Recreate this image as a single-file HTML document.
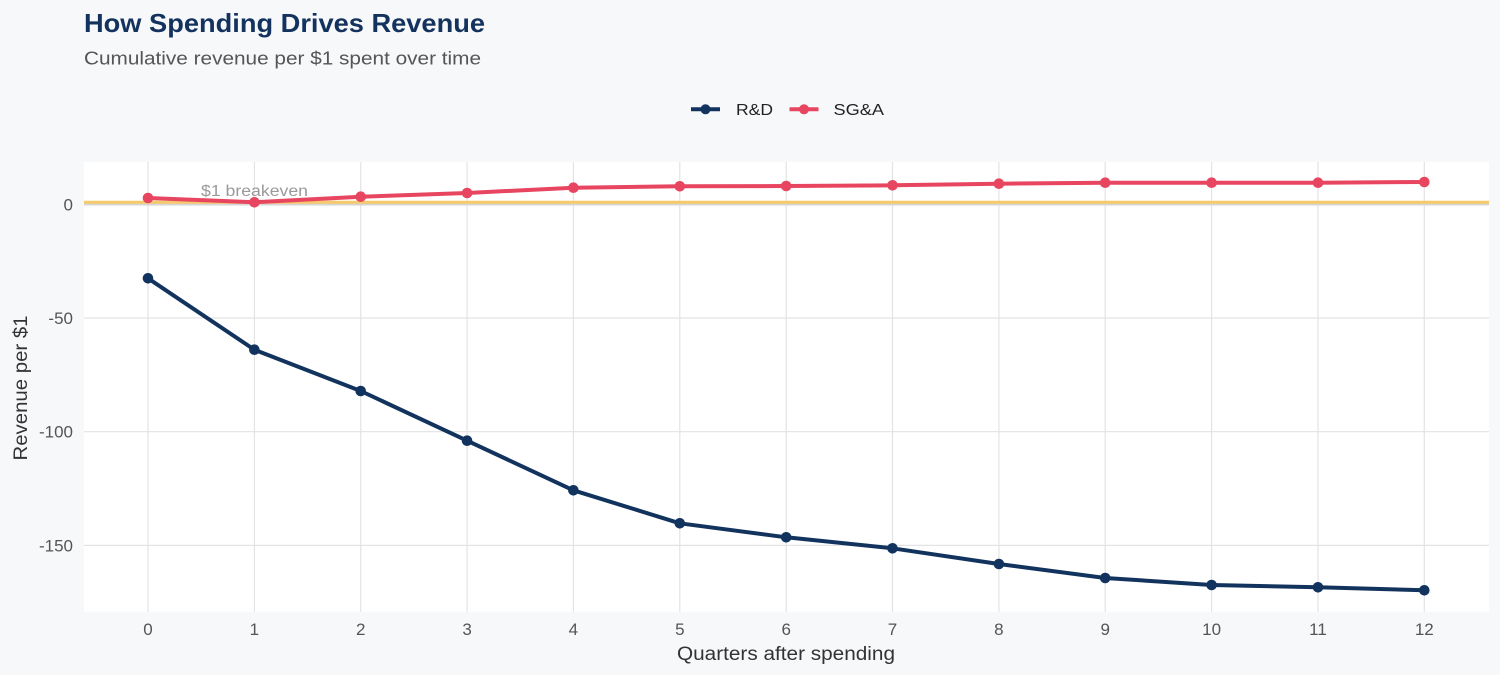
<!DOCTYPE html>
<html>
<head>
<meta charset="utf-8">
<style>
  html, body { margin: 0; padding: 0; background: #f7f8fa; }
  svg { display: block; }
  text { font-family: "Liberation Sans", Arial, Helvetica, sans-serif; }
</style>
</head>
<body>
<svg width="1500" height="675" viewBox="0 0 1500 675" xmlns="http://www.w3.org/2000/svg">
  <rect x="0" y="0" width="1500" height="675" fill="#f7f8fa"/>

  <!-- Title & subtitle -->
  <text x="84" y="32" font-size="26" font-weight="bold" fill="#13325d" textLength="401" lengthAdjust="spacingAndGlyphs">How Spending Drives Revenue</text>
  <text x="84" y="64.5" font-size="18.5" fill="#555555" textLength="397" lengthAdjust="spacingAndGlyphs">Cumulative revenue per $1 spent over time</text>

  <!-- Legend -->
  <line x1="691" y1="109.3" x2="720" y2="109.3" stroke="#12335e" stroke-width="4"/>
  <circle cx="705.5" cy="109.3" r="5" fill="#12335e"/>
  <text x="736" y="115" font-size="16" fill="#222222" textLength="37" lengthAdjust="spacingAndGlyphs">R&amp;D</text>
  <line x1="789.5" y1="109.3" x2="818.5" y2="109.3" stroke="#e84560" stroke-width="4"/>
  <circle cx="804" cy="109.3" r="5" fill="#e84560"/>
  <text x="833.5" y="115" font-size="16" fill="#222222" textLength="50.5" lengthAdjust="spacingAndGlyphs">SG&amp;A</text>

  <!-- Panel -->
  <rect x="84" y="162" width="1405" height="449.7" fill="#ffffff"/>

  <!-- Vertical gridlines -->
  <g stroke="#e3e3e3" stroke-width="1.2">
    <line x1="148" y1="162" x2="148" y2="611.7"/>
    <line x1="254.4" y1="162" x2="254.4" y2="611.7"/>
    <line x1="360.7" y1="162" x2="360.7" y2="611.7"/>
    <line x1="467.1" y1="162" x2="467.1" y2="611.7"/>
    <line x1="573.4" y1="162" x2="573.4" y2="611.7"/>
    <line x1="679.8" y1="162" x2="679.8" y2="611.7"/>
    <line x1="786.2" y1="162" x2="786.2" y2="611.7"/>
    <line x1="892.5" y1="162" x2="892.5" y2="611.7"/>
    <line x1="998.9" y1="162" x2="998.9" y2="611.7"/>
    <line x1="1105.2" y1="162" x2="1105.2" y2="611.7"/>
    <line x1="1211.6" y1="162" x2="1211.6" y2="611.7"/>
    <line x1="1318" y1="162" x2="1318" y2="611.7"/>
    <line x1="1424.3" y1="162" x2="1424.3" y2="611.7"/>
  </g>
  <!-- Horizontal gridlines -->
  <g stroke="#e3e3e3" stroke-width="1.2">
    <line x1="84" y1="318" x2="1489" y2="318"/>
    <line x1="84" y1="431.7" x2="1489" y2="431.7"/>
    <line x1="84" y1="545.4" x2="1489" y2="545.4"/>
  </g>
  <line x1="84" y1="204.5" x2="1489" y2="204.5" stroke="#d6d6d6" stroke-width="2"/>
  <!-- Breakeven line -->
  <line x1="84" y1="202.2" x2="1489" y2="202.2" stroke="#f6c96b" stroke-width="3"/>
  <text x="201" y="196" font-size="15.5" fill="#9a9a9a" textLength="107" lengthAdjust="spacingAndGlyphs">$1 breakeven</text>

  <!-- SG&A series -->
  <polyline fill="none" stroke="#e84560" stroke-width="4" stroke-linejoin="round"
    points="148,198 254.4,202.3 360.7,196.7 467.1,193 573.4,187.7 679.8,186.3 786.2,186 892.5,185.3 998.9,183.7 1105.2,182.7 1211.6,182.7 1318,182.7 1424.3,182"/>
  <g fill="#e84560">
    <circle cx="148" cy="198" r="5.3"/>
    <circle cx="254.4" cy="202.3" r="5.3"/>
    <circle cx="360.7" cy="196.7" r="5.3"/>
    <circle cx="467.1" cy="193" r="5.3"/>
    <circle cx="573.4" cy="187.7" r="5.3"/>
    <circle cx="679.8" cy="186.3" r="5.3"/>
    <circle cx="786.2" cy="186" r="5.3"/>
    <circle cx="892.5" cy="185.3" r="5.3"/>
    <circle cx="998.9" cy="183.7" r="5.3"/>
    <circle cx="1105.2" cy="182.7" r="5.3"/>
    <circle cx="1211.6" cy="182.7" r="5.3"/>
    <circle cx="1318" cy="182.7" r="5.3"/>
    <circle cx="1424.3" cy="182" r="5.3"/>
  </g>

  <!-- R&D series -->
  <polyline fill="none" stroke="#12335e" stroke-width="4" stroke-linejoin="round"
    points="148,278.3 254.4,349.7 360.7,391 467.1,440.7 573.4,490.3 679.8,523.3 786.2,537.3 892.5,548.3 998.9,564 1105.2,578 1211.6,585 1318,587.3 1424.3,590.3"/>
  <g fill="#12335e">
    <circle cx="148" cy="278.3" r="5.3"/>
    <circle cx="254.4" cy="349.7" r="5.3"/>
    <circle cx="360.7" cy="391" r="5.3"/>
    <circle cx="467.1" cy="440.7" r="5.3"/>
    <circle cx="573.4" cy="490.3" r="5.3"/>
    <circle cx="679.8" cy="523.3" r="5.3"/>
    <circle cx="786.2" cy="537.3" r="5.3"/>
    <circle cx="892.5" cy="548.3" r="5.3"/>
    <circle cx="998.9" cy="564" r="5.3"/>
    <circle cx="1105.2" cy="578" r="5.3"/>
    <circle cx="1211.6" cy="585" r="5.3"/>
    <circle cx="1318" cy="587.3" r="5.3"/>
    <circle cx="1424.3" cy="590.3" r="5.3"/>
  </g>

  <!-- Y tick labels -->
  <g font-size="17" fill="#555555" text-anchor="end">
    <text x="73" y="210.5">0</text>
    <text x="73" y="324">-50</text>
    <text x="73" y="437.7">-100</text>
    <text x="73" y="551.4">-150</text>
  </g>

  <!-- X tick labels -->
  <g font-size="17" fill="#555555" text-anchor="middle">
    <text x="148" y="635">0</text>
    <text x="254.4" y="635">1</text>
    <text x="360.7" y="635">2</text>
    <text x="467.1" y="635">3</text>
    <text x="573.4" y="635">4</text>
    <text x="679.8" y="635">5</text>
    <text x="786.2" y="635">6</text>
    <text x="892.5" y="635">7</text>
    <text x="998.9" y="635">8</text>
    <text x="1105.2" y="635">9</text>
    <text x="1211.6" y="635">10</text>
    <text x="1318" y="635">11</text>
    <text x="1424.3" y="635">12</text>
  </g>

  <!-- Axis titles -->
  <text x="677" y="660" font-size="19" fill="#333333" textLength="218" lengthAdjust="spacingAndGlyphs">Quarters after spending</text>
  <text transform="translate(27,388) rotate(-90)" x="0" y="0" font-size="19" fill="#333333" text-anchor="middle" textLength="145" lengthAdjust="spacingAndGlyphs">Revenue per $1</text>
</svg>
</body>
</html>
